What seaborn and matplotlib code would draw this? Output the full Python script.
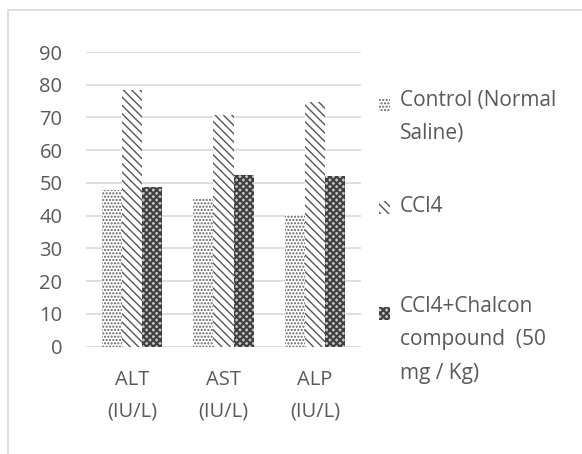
import matplotlib
matplotlib.use("Agg")
import matplotlib.pyplot as plt
import seaborn as sns
import pandas as pd
from matplotlib.patches import Patch, Rectangle

categories = ["ALT\n(IU/L)", "AST\n(IU/L)", "ALP\n(IU/L)"]
groups = ["Control (Normal\nSaline)", "CCl4", "CCl4+Chalcon\ncompound  (50\nmg / Kg)"]
control = [48.0, 45.2, 40.3]
ccl4 = [78.3, 70.7, 74.6]
chalcon = [48.8, 52.3, 52.1]
yticks = [0, 10, 20, 30, 40, 50, 60, 70, 80, 90]

rows = []
for g, vals in zip(groups, [control, ccl4, chalcon]):
    for c, v in zip(categories, vals):
        rows.append({"cat": c, "group": g, "value": v})
df = pd.DataFrame(rows)

sns.set_theme(style="white")
plt.rcParams['font.family'] = ['Open Sans', 'DejaVu Sans']
plt.rcParams['hatch.linewidth'] = 1.0

TXT = "#595959"
GRID = "#d9d9d9"
BLUE = "#bdd7ee"
fig = plt.figure(figsize=(5.82, 4.54), dpi=100)
ax = fig.add_axes([86/582, 1-346.7/454, 275/582, (346.7-52)/454])

sns.barplot(data=df, x="cat", y="value", hue="group", order=categories,
            hue_order=groups, width=0.66, palette=["white"]*3, ax=ax,
            legend=False, saturation=1, linewidth=0, gap=0)

hatches = ['.....', '\\\\\\\\', 'xxxxx']
hcolors = ['#5f5f5f', '#555555', '#3f3f3f']
faces = ['white', 'white', '#c4c4c4']
has_hc = hasattr(matplotlib.patches.Patch, 'set_hatchcolor')


def style(p, i):
    p.set_hatch(hatches[i])
    p.set_facecolor(faces[i])
    if i == 2 and has_hc:
        p.set_edgecolor(BLUE)
        p.set_hatchcolor(hcolors[i])
        p.set_linewidth(1.2)
    else:
        p.set_edgecolor(hcolors[i])
        p.set_linewidth(0)
    if i == 2 and hasattr(p, 'set_hatch_linewidth'):
        p.set_hatch_linewidth(1.5)


for i, cont in enumerate(ax.containers):
    for p in cont:
        style(p, i)

ax.set_ylim(0, 90)
ax.set_xlim(-0.5, 2.5)
ax.set_yticks(yticks)
ax.yaxis.grid(True, color=GRID, linewidth=1.2)
ax.set_axisbelow(True)
for s in ax.spines.values():
    s.set_visible(False)
ax.tick_params(axis='both', length=0, labelsize=14.5, colors=TXT)
ax.tick_params(axis='y', pad=17)
ax.tick_params(axis='x', pad=17)
for t in ax.get_xticklabels():
    t.set_linespacing(1.75)
ax.set_xlabel("")
ax.set_ylabel("")

# legend: one block per entry, handle aligned with the first text line
centers = [116.7, 206.7, 340.0]
LS = 1.75
for i, (g, yc) in enumerate(zip(groups, centers)):
    h = Patch(facecolor='white', edgecolor=hcolors[i], hatch=hatches[i], linewidth=0)
    leg = fig.legend([h], [g], loc='center left', bbox_to_anchor=(379/582, 1-yc/454),
                     frameon=False, fontsize=15, handlelength=0.55, handleheight=0.55,
                     handletextpad=0.45, borderpad=0, borderaxespad=0, labelcolor=TXT)
    for t in leg.get_texts():
        t.set_linespacing(LS)
    n = g.count("\n") + 1
    pitch_pt = 30 * 72 / 100
    for hp in leg.legend_handles:
        style(hp, i)
        hp.set_y(hp.get_y() + (n - 1) / 2 * pitch_pt - 2)

fig.add_artist(Rectangle((8/582, -0.1), 1.2, 1.1 - 10/454, transform=fig.transFigure,
                         fill=False, edgecolor=GRID, linewidth=1.2))
fig.savefig("out.png", dpi=100)
